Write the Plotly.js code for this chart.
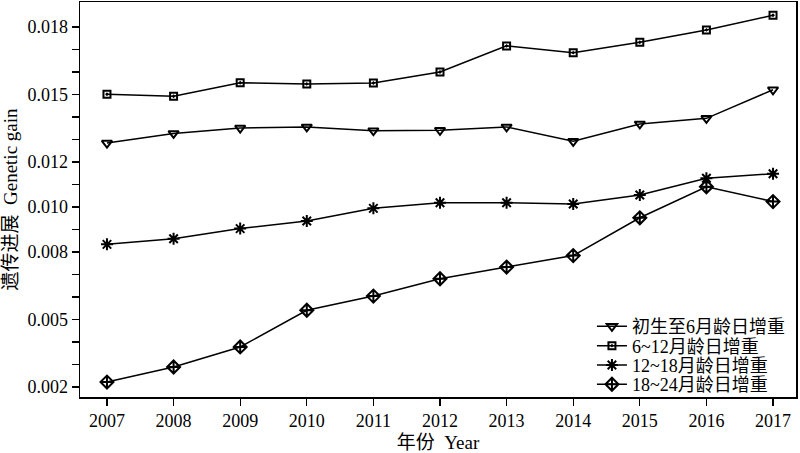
<!DOCTYPE html>
<html>
<head>
<meta charset="utf-8">
<script src="https://cdn.plot.ly/plotly-3.0.1.min.js"></script>
<style>html,body{margin:0;padding:0;background:#fff;}#chart{width:800px;height:453px;}</style>
</head>
<body>
<div id="chart"></div>
<script>
const years = [2007, 2008, 2009, 2010, 2011, 2012, 2013, 2014, 2015, 2016, 2017];
const seriesNames = ["初生至6月龄日增重", "6~12月龄日增重", "12~18月龄日增重", "18~24月龄日增重"];
const gain0to6 = [0.01284, 0.01327, 0.01351, 0.01356, 0.01339, 0.01341, 0.01356, 0.01292, 0.01369, 0.01394, 0.01521];
const gain6to12 = [0.01501, 0.01492, 0.01552, 0.01547, 0.01551, 0.01600, 0.01716, 0.01686, 0.01732, 0.01787, 0.01852];
const gain12to18 = [0.00834, 0.00859, 0.00904, 0.00938, 0.00994, 0.01019, 0.01019, 0.01013, 0.01053, 0.01128, 0.01148];
const gain18to24 = [0.00222, 0.00289, 0.00378, 0.00541, 0.00604, 0.00681, 0.00733, 0.00784, 0.00952, 0.01090, 0.01024];
const yTickVals = [0.002, 0.003, 0.004, 0.005, 0.006, 0.007, 0.008, 0.009, 0.010, 0.011, 0.012, 0.013, 0.014, 0.015, 0.016, 0.017, 0.018];
const yTickText = ["0.002", "", "", "0.005", "", "", "0.008", "", "0.010", "", "0.012", "", "", "0.015", "", "", "0.018"];

const FONT = '"Liberation Serif", "Noto Sans CJK SC", serif';
const symbols = ["triangle-down-open", "square-open-dot", "asterisk-open", "diamond-cross-open"];
const sizes = [9, 7, 10, 10];
const data = [gain0to6, gain6to12, gain12to18, gain18to24].map((vals, i) => ({
  x: years, y: vals, name: seriesNames[i], type: 'scatter', mode: 'lines+markers',
  line: {color: '#000', width: 1.5},
  marker: {symbol: symbols[i], size: sizes[i], color: '#000', line: {color: '#000', width: 2}}
}));

const layout = {
  width: 800, height: 453,
  margin: {l: 80, r: 4, t: 2, b: 56},
  paper_bgcolor: '#fff', plot_bgcolor: '#fff',
  font: {family: FONT, size: 18, color: '#000'},
  showlegend: true,
  legend: {x: 0.715, y: 0.225, xanchor: 'left', yanchor: 'top', bgcolor: 'rgba(0,0,0,0)',
           font: {family: FONT, size: 18, color: '#000'}, tracegroupgap: 0, itemwidth: 30},
  xaxis: {
    range: [2006.595, 2017.345], tickvals: years, ticktext: years.map(String),
    showgrid: false, zeroline: false, showline: true, mirror: true, linecolor: '#000', linewidth: 1.5,
    ticks: 'outside', ticklen: 7, tickwidth: 1.2, tickcolor: '#000',
    tickfont: {family: FONT, size: 18, color: '#000'},
    title: {text: '年份  Year', font: {family: FONT, size: 19, color: '#000'}, standoff: 7}
  },
  yaxis: {
    range: [0.001556, 0.01911], tickvals: yTickVals, ticktext: yTickText,
    showgrid: false, zeroline: false, showline: true, mirror: true, linecolor: '#000', linewidth: 1.5,
    ticks: 'outside', ticklen: 7, tickwidth: 1.2, tickcolor: '#000',
    tickfont: {family: FONT, size: 18, color: '#000'},
    title: {text: '遗传进展  Genetic gain', font: {family: FONT, size: 19, color: '#000'}, standoff: 7}
  }
};
Plotly.newPlot('chart', data, layout, {staticPlot: true, displayModeBar: false}).then(() => {
  const items = document.querySelectorAll('.legend .traces');
  if (!items.length) return;
  const m = /translate\(\s*([-\d.]+)[ ,]+([-\d.]+)/.exec(items[0].getAttribute('transform') || '');
  const x0 = m ? parseFloat(m[1]) : 0, y0 = m ? parseFloat(m[2]) : 0;
  items.forEach((g, i) => g.setAttribute('transform', `translate(${x0},${y0 + i * 19.3})`));
});
</script>
</body>
</html>
